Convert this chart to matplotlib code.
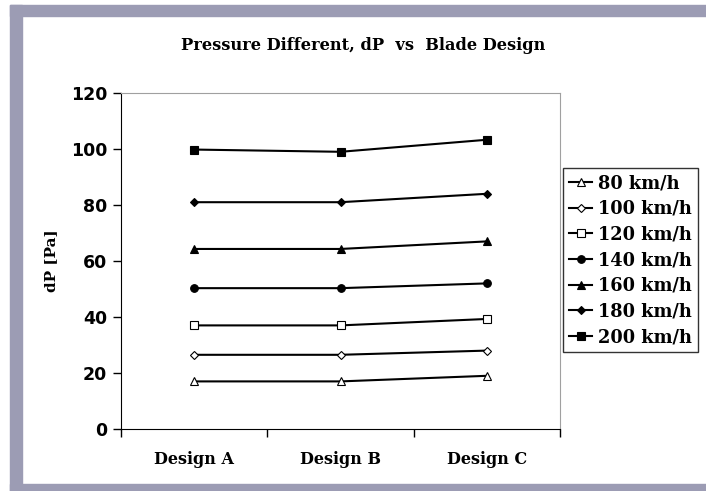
import numpy as np
import matplotlib.pyplot as plt
from matplotlib.patches import Rectangle

designs = ["Design A", "Design B", "Design C"]
speeds = ["80 km/h", "100 km/h", "120 km/h", "140 km/h", "160 km/h", "180 km/h", "200 km/h"]

dp_80 = [17, 17, 19]
dp_100 = [26.5, 26.5, 28]
dp_120 = [37, 37, 39.3]
dp_140 = [50.3, 50.3, 52]
dp_160 = [64.3, 64.3, 67]
dp_180 = [81, 81, 84]
dp_200 = [99.8, 99, 103.3]

series = [dp_80, dp_100, dp_120, dp_140, dp_160, dp_180, dp_200]
markers = [
    ("^", "white", 6),
    ("D", "white", 4),
    ("s", "white", 5.5),
    ("o", "black", 5.5),
    ("^", "black", 6),
    ("D", "black", 4.5),
    ("s", "black", 5.5),
]

border = "#9c9cb4"
serif = "DejaVu Serif"

fig = plt.figure(figsize=(7.06, 4.91), dpi=100)

# grey frame round the chart (left, top, bottom)
W, H = 706, 491
fig.patches.append(Rectangle((10 / W, 0), 12 / W, 1 - 5 / H, transform=fig.transFigure,
                             color=border, zorder=0))
fig.patches.append(Rectangle((10 / W, 1 - 16 / H), 1, 11 / H, transform=fig.transFigure,
                             color=border, zorder=0))
fig.patches.append(Rectangle((10 / W, 0), 1, 7 / H, transform=fig.transFigure,
                             color=border, zorder=0))

ax = fig.add_axes([121 / W, 1 - 429 / H, 439 / W, 336 / H])

x = np.arange(len(designs))
for vals, label, (m, fc, ms) in zip(series, speeds, markers):
    ax.plot(x, vals, color="black", linewidth=1.5, marker=m, markersize=ms,
            markerfacecolor=fc, markeredgecolor="black", markeredgewidth=0.8,
            label=label)

ax.set_xlim(-0.5, 2.5)
ax.set_ylim(0, 120)
ax.set_yticks(np.arange(0, 121, 20))
ax.set_xticks([-0.5, 0.5, 1.5, 2.5])
ax.set_xticklabels([])
ax.set_xticks(x, minor=True)
ax.set_xticklabels(designs, minor=True, fontfamily=serif,
                   fontweight="bold", fontsize=11.5)
ax.tick_params(axis="x", which="major", direction="out", length=6, width=1)
ax.tick_params(axis="x", which="minor", length=0, pad=16)
ax.tick_params(axis="y", direction="out", length=6, width=1, pad=4)
for lab in ax.get_yticklabels():
    lab.set_fontfamily("DejaVu Sans")
    lab.set_fontweight("bold")
    lab.set_fontsize(12.5)

ax.spines["left"].set_color("black")
ax.spines["bottom"].set_color("black")
ax.spines["top"].set_color("#a0a0a0")
ax.spines["right"].set_color("#a0a0a0")

ax.set_ylabel("dP [Pa]", fontfamily=serif, fontweight="bold",
              fontsize=11, labelpad=9)

fig.text(363 / W, 1 - 45 / H, "Pressure Different, dP  vs  Blade Design",
         ha="center", va="center", fontfamily=serif,
         fontweight="bold", fontsize=11.7)

handles, labels = ax.get_legend_handles_labels()
leg = fig.legend(handles, labels, loc="upper left",
                 bbox_to_anchor=(563 / W, 1 - 168 / H),
                 prop={"family": serif, "weight": "bold", "size": 12.8},
                 frameon=True, fancybox=False, edgecolor="black",
                 handlelength=1.3, handletextpad=0.3, labelspacing=0.43,
                 borderpad=0.35, borderaxespad=0)
leg.get_frame().set_linewidth(1)

fig.savefig("out.png", dpi=100)
